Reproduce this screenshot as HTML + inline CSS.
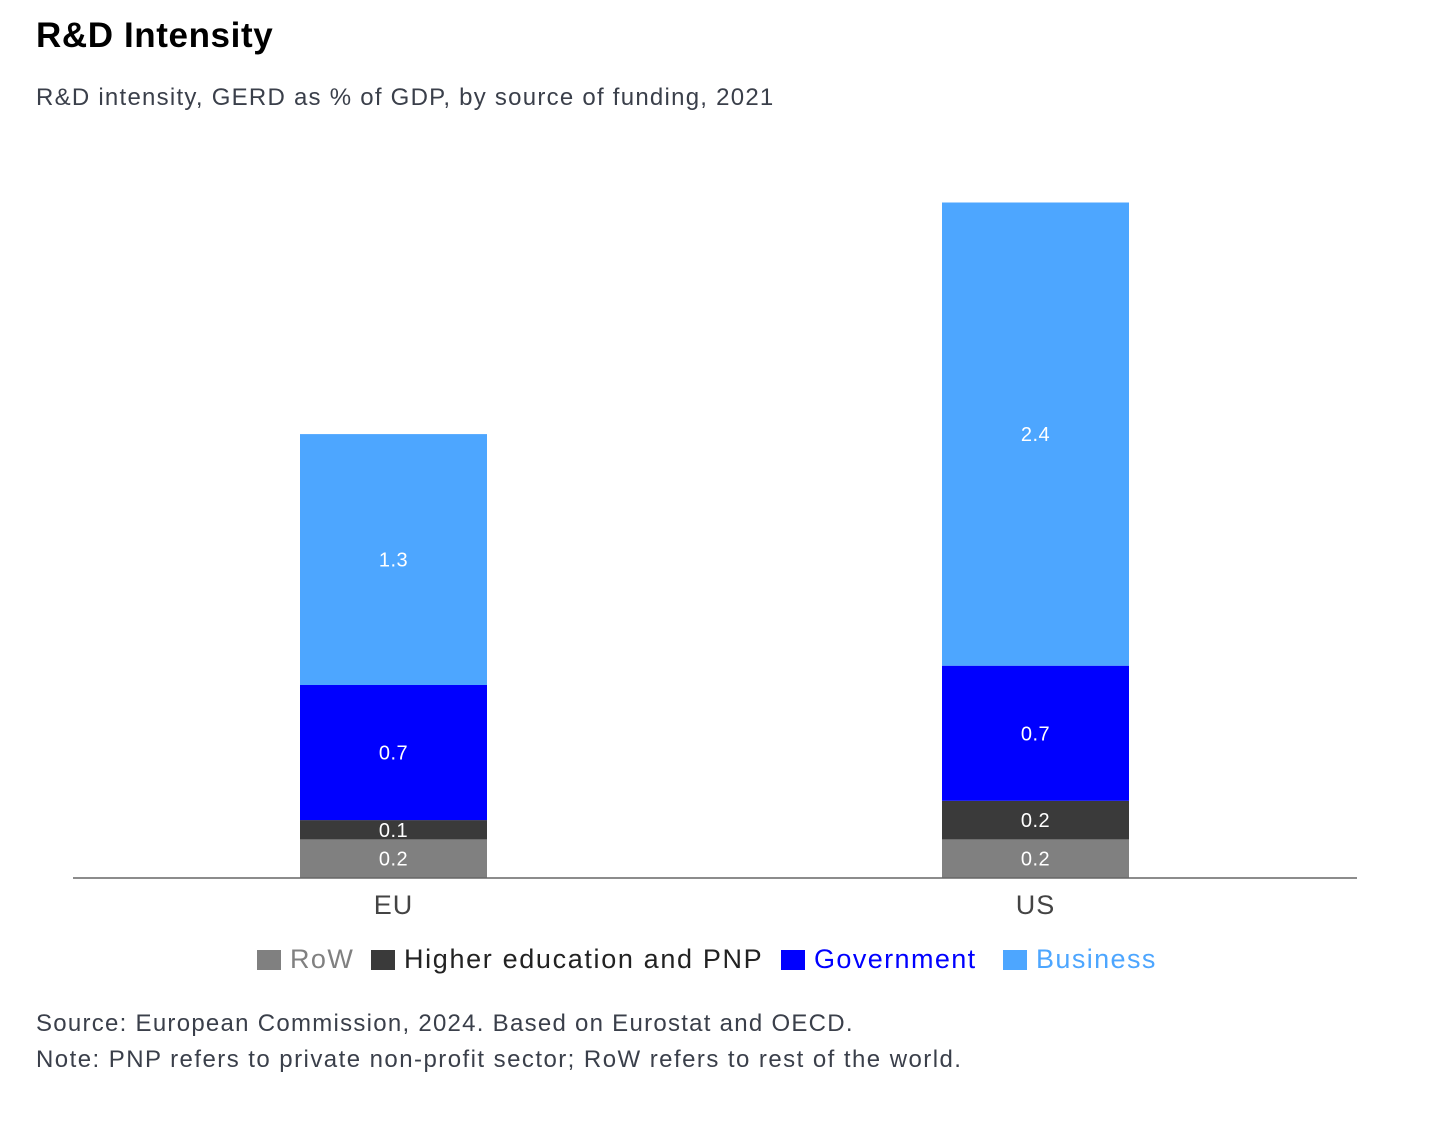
<!DOCTYPE html>
<html><head><meta charset="utf-8"><style>
body{margin:0;background:#fff;width:1456px;height:1129px;overflow:hidden;font-family:"Liberation Sans",Helvetica,Arial,sans-serif;}
.t{position:absolute;left:36px;white-space:nowrap}
</style></head><body>
<div class="t" style="top:16px;font-size:35px;font-weight:bold;color:#000;letter-spacing:0.6px">R&amp;D Intensity</div>
<div class="t" style="top:84px;font-size:24px;color:#3a3f4a;letter-spacing:1.25px">R&amp;D intensity, GERD as % of GDP, by source of funding, 2021</div>
<svg id="c" width="1456" height="1129" style="position:absolute;left:0;top:0" xmlns="http://www.w3.org/2000/svg"></svg>
<div class="t" style="top:1010px;font-size:24px;color:#3a3f4a;letter-spacing:1.27px">Source: European Commission, 2024. Based on Eurostat and OECD.</div>
<div class="t" style="top:1046px;font-size:24px;color:#3a3f4a;letter-spacing:1.45px">Note: PNP refers to private non-profit sector; RoW refers to rest of the world.</div>
<script>
const categories=["EU","US"];
const seriesNames=["RoW","Higher education and PNP","Government","Business"];
const rowVals=[0.2,0.2];
const heVals=[0.1,0.2];
const govVals=[0.7,0.7];
const busVals=[1.3,2.4];
const colors=["#808080","#3a3a3a","#0000ff","#4da6ff"];
const legendText=["#808080","#222","#0000ff","#4da6ff"];
const svg=document.getElementById('c');
const NS="http://www.w3.org/2000/svg";
const base=878, scale=193;
const y=v=>base-v*scale;
const x=i=>393.5+i*642;
const bw=187;
function mk(t,a){const e=document.createElementNS(NS,t);for(const k in a)e.setAttribute(k,a[k]);svg.appendChild(e);return e;}
const series=[rowVals,heVals,govVals,busVals];
categories.forEach((c,i)=>{
  let cum=0;
  series.forEach((s,j)=>{
    const v=s[i];
    const r=mk('rect',{x:x(i)-bw/2,y:y(cum+v),width:bw,height:v*scale,fill:colors[j]});
    
    
    const t=mk('text',{x:x(i),y:y(cum+v/2)+7,'text-anchor':'middle','font-size':20,fill:'#fff','font-family':'Liberation Sans, sans-serif','letter-spacing':0.5});
    t.textContent=v.toFixed(1);
    
    
    cum+=v;
  });
  const l=mk('text',{x:x(i),y:914,'text-anchor':'middle','font-size':27,fill:'#444','font-family':'Liberation Sans, sans-serif','letter-spacing':1});
  l.textContent=c;
  
  
});
const ax=mk('line',{x1:73,x2:1357,y1:base,y2:base,stroke:'#666','stroke-width':1.5});


const lx=[257,371,781,1003];
const lsp=[1.4,1.65,1.4,1.4];
seriesNames.forEach((n,j)=>{
  const r=mk('rect',{x:lx[j],y:950,width:24,height:20,fill:colors[j]});
  
  
  const t=mk('text',{x:lx[j]+33,y:968,'font-size':27,fill:legendText[j],'font-family':'Liberation Sans, sans-serif','letter-spacing':lsp[j]});
  t.textContent=n;
  
  
});
</script>
</body></html>
